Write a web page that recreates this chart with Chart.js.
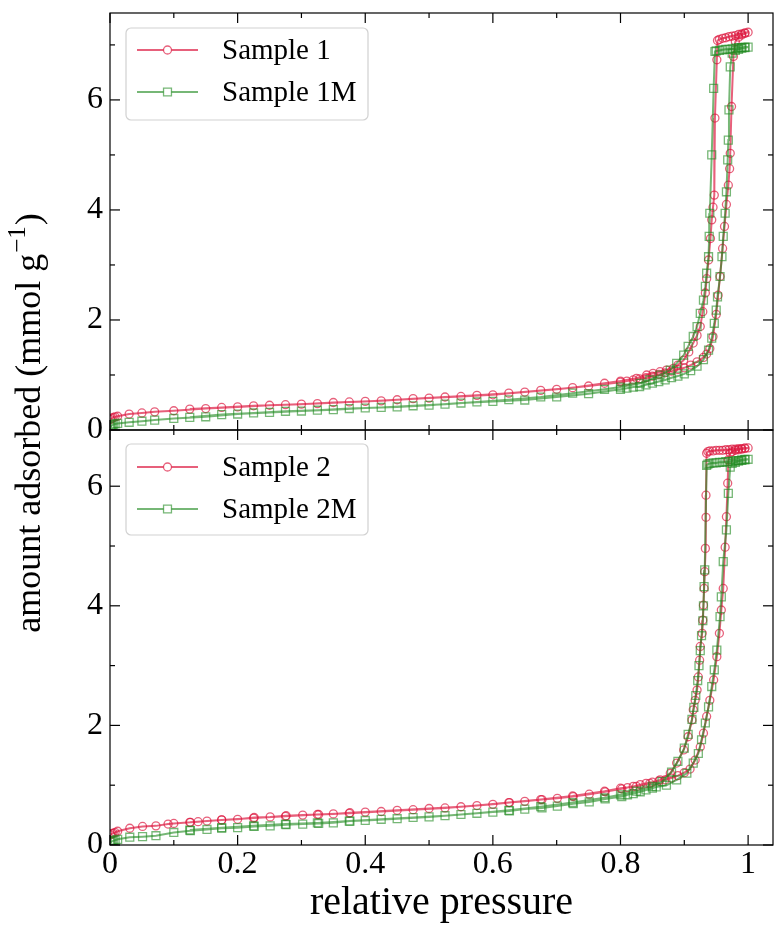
<!DOCTYPE html>
<html><head><meta charset="utf-8">
<script src="https://cdn.jsdelivr.net/npm/chart.js@4.4.1/dist/chart.umd.min.js"></script>
<style>
html,body{margin:0;padding:0;background:#fff;}
#wrap{position:relative;width:774px;height:925px;}
canvas{position:absolute;left:0;top:0;}
</style></head><body>
<div id="wrap"><canvas id="c1" width="774" height="925"></canvas><canvas id="c2" width="774" height="925"></canvas></div>
<script>
// ---------- tick labels ----------
const xTicks = [0, 0.2, 0.4, 0.6, 0.8, 1.0];
const xTickLabels = ['0', '0.2', '0.4', '0.6', '0.8', '1'];
const xMinorTicks = [0.1, 0.3, 0.5, 0.7, 0.9];
const yTicksTop = [0, 2, 4, 6];
const yTickLabelsTop = ['0', '2', '4', '6'];
const yMinorTop = [1, 3, 5, 7];
const yTicksBottom = [0, 2, 4, 6];
const yTickLabelsBottom = ['0', '2', '4', '6'];
const yMinorBottom = [1, 3, 5];
const X_MAX = 1.039, Y_MAX_TOP = 7.58, Y_MAX_BOTTOM = 6.94;

// ---------- Sample 1 (adsorption then desorption) ----------
const s1AdsP = [0.001,0.003,0.005,0.008,0.012,0.03,0.05,0.07,0.1,0.15,0.2,0.25,0.3,0.35,0.4,0.45,0.5,0.55,0.6,0.65,0.7,0.75,0.8,0.81,0.82,0.83,0.84,0.85,0.86,0.87,0.88,0.89,0.9,0.91,0.92,0.93,0.935,0.94,0.945,0.95,0.953,0.956,0.96,0.963,0.966,0.969,0.971,0.972,0.974,0.977,0.98,0.985,0.99,0.995,1.0];
const s1AdsV = [0.19,0.21,0.23,0.24,0.25,0.29,0.31,0.33,0.35,0.39,0.42,0.45,0.47,0.50,0.52,0.55,0.58,0.61,0.64,0.69,0.74,0.80,0.87,0.89,0.91,0.93,0.95,0.98,1.01,1.04,1.07,1.10,1.13,1.18,1.24,1.32,1.38,1.48,1.70,2.10,2.45,2.79,3.30,3.70,4.10,4.45,4.75,5.03,5.88,6.79,7.06,7.14,7.18,7.21,7.23];
const s1DesP = [0.995,0.99,0.985,0.98,0.975,0.97,0.965,0.96,0.955,0.952,0.951,0.948,0.947,0.945,0.943,0.941,0.938,0.935,0.933,0.929,0.925,0.92,0.914,0.907,0.899,0.89,0.883,0.872,0.862,0.851,0.841,0.825,0.8,0.775,0.725,0.675,0.625,0.575,0.525,0.475,0.425,0.375,0.325,0.275,0.225,0.175,0.125];
const s1DesV = [7.22,7.20,7.19,7.17,7.16,7.15,7.13,7.12,7.10,7.08,6.73,5.67,4.27,4.05,3.82,3.48,3.09,2.75,2.49,2.15,1.88,1.72,1.58,1.42,1.27,1.18,1.12,1.09,1.06,1.03,1.00,0.94,0.89,0.85,0.77,0.72,0.67,0.63,0.60,0.57,0.53,0.51,0.48,0.46,0.44,0.41,0.38];

// ---------- Sample 1M ----------
const s1mAdsP = [0.001,0.003,0.005,0.008,0.012,0.03,0.05,0.07,0.1,0.15,0.2,0.25,0.3,0.35,0.4,0.45,0.5,0.55,0.6,0.65,0.7,0.75,0.8,0.81,0.82,0.83,0.84,0.85,0.86,0.87,0.88,0.89,0.9,0.91,0.92,0.93,0.938,0.943,0.947,0.95,0.952,0.956,0.959,0.961,0.964,0.966,0.968,0.969,0.97,0.972,0.975,0.98,0.985,0.99,0.995,1.0];
const s1mAdsV = [0.06,0.08,0.10,0.11,0.12,0.14,0.16,0.18,0.21,0.24,0.29,0.32,0.345,0.37,0.40,0.42,0.45,0.49,0.52,0.545,0.60,0.66,0.74,0.76,0.78,0.79,0.82,0.85,0.88,0.91,0.95,0.98,1.02,1.08,1.16,1.28,1.45,1.67,1.94,2.18,2.42,2.79,3.15,3.52,3.94,4.33,4.91,5.27,5.82,6.60,6.85,6.90,6.92,6.94,6.95,6.96];
const s1mDesP = [0.995,0.99,0.985,0.98,0.975,0.97,0.965,0.96,0.955,0.95,0.948,0.946,0.943,0.94,0.939,0.938,0.935,0.933,0.93,0.925,0.92,0.914,0.906,0.899,0.888,0.878,0.862,0.846,0.831,0.8,0.775,0.725,0.675,0.625,0.575,0.525,0.475,0.425,0.375,0.325,0.275,0.225,0.175,0.125];
const s1mDesV = [6.96,6.95,6.95,6.94,6.93,6.92,6.92,6.91,6.90,6.89,6.88,6.21,5.00,3.94,3.52,3.15,2.85,2.61,2.36,2.12,1.88,1.70,1.52,1.36,1.21,1.09,1.00,0.91,0.85,0.78,0.74,0.67,0.60,0.55,0.51,0.47,0.44,0.41,0.39,0.36,0.34,0.31,0.28,0.23];

// ---------- Sample 2 ----------
const s2AdsP = [0.001,0.003,0.005,0.008,0.012,0.031,0.051,0.072,0.091,0.1,0.126,0.138,0.152,0.175,0.2,0.226,0.251,0.276,0.302,0.327,0.35,0.376,0.4,0.45,0.5,0.55,0.6,0.626,0.65,0.677,0.701,0.726,0.751,0.776,0.802,0.811,0.82,0.831,0.84,0.85,0.86,0.87,0.88,0.89,0.9,0.909,0.917,0.925,0.93,0.935,0.94,0.946,0.951,0.955,0.958,0.961,0.964,0.966,0.968,0.969,0.972,0.975,0.98,0.985,0.99,0.995,1.0];
const s2AdsV = [0.17,0.19,0.20,0.21,0.23,0.28,0.31,0.32,0.35,0.36,0.38,0.39,0.40,0.42,0.43,0.46,0.47,0.49,0.50,0.51,0.52,0.54,0.55,0.58,0.61,0.64,0.68,0.71,0.73,0.76,0.78,0.81,0.85,0.89,0.94,0.96,0.98,1.01,1.03,1.05,1.07,1.09,1.12,1.16,1.21,1.27,1.42,1.64,1.87,2.15,2.42,2.76,3.15,3.54,3.93,4.29,4.98,5.49,6.05,6.44,6.55,6.58,6.60,6.61,6.62,6.63,6.64];
const s2DesP = [0.995,0.99,0.985,0.98,0.975,0.97,0.965,0.96,0.955,0.95,0.945,0.94,0.937,0.935,0.934,0.934,0.933,0.932,0.931,0.930,0.929,0.928,0.925,0.924,0.922,0.920,0.917,0.914,0.912,0.906,0.899,0.888,0.878,0.862,0.846,0.825,0.8,0.775,0.725,0.675,0.625,0.575,0.525,0.475,0.425,0.375,0.325,0.275,0.225,0.175,0.125];
const s2DesV = [6.64,6.63,6.63,6.62,6.62,6.61,6.61,6.60,6.60,6.60,6.59,6.59,6.58,6.55,5.85,5.48,4.96,4.57,4.29,4.01,3.76,3.54,3.32,3.09,2.81,2.59,2.42,2.26,2.09,1.81,1.59,1.37,1.20,1.09,1.03,0.98,0.95,0.90,0.82,0.76,0.71,0.66,0.62,0.59,0.56,0.53,0.51,0.48,0.45,0.42,0.38];

// ---------- Sample 2M ----------
const s2mAdsP = [0.001,0.003,0.005,0.008,0.012,0.031,0.051,0.072,0.1,0.126,0.152,0.175,0.2,0.226,0.251,0.276,0.302,0.327,0.35,0.376,0.4,0.45,0.5,0.55,0.6,0.626,0.65,0.677,0.701,0.726,0.751,0.776,0.802,0.811,0.82,0.831,0.84,0.85,0.856,0.872,0.888,0.904,0.914,0.922,0.927,0.933,0.938,0.943,0.947,0.951,0.956,0.958,0.961,0.966,0.969,0.972,0.975,0.98,0.985,0.99,0.995,1.0];
const s2mAdsV = [0.05,0.06,0.07,0.08,0.095,0.13,0.14,0.155,0.21,0.24,0.26,0.28,0.29,0.31,0.32,0.34,0.35,0.36,0.37,0.40,0.41,0.44,0.47,0.51,0.55,0.57,0.60,0.62,0.65,0.69,0.72,0.77,0.81,0.84,0.86,0.89,0.92,0.95,0.97,1.00,1.09,1.20,1.37,1.53,1.76,2.04,2.31,2.65,2.93,3.26,3.82,4.15,4.74,5.27,5.88,6.32,6.38,6.40,6.42,6.43,6.44,6.45];
const s2mDesP = [0.995,0.99,0.985,0.98,0.975,0.97,0.965,0.96,0.955,0.95,0.945,0.94,0.937,0.935,0.932,0.931,0.93,0.929,0.927,0.925,0.923,0.921,0.918,0.915,0.912,0.906,0.9,0.89,0.88,0.865,0.85,0.825,0.8,0.775,0.725,0.675,0.625,0.575,0.525,0.475,0.425,0.375,0.325,0.275,0.225,0.175,0.125];
const s2mDesV = [6.45,6.44,6.43,6.43,6.42,6.41,6.41,6.40,6.40,6.39,6.39,6.38,6.37,6.35,4.60,4.32,4.00,3.75,3.50,3.25,3.00,2.75,2.50,2.30,2.10,1.85,1.62,1.40,1.22,1.06,0.98,0.90,0.84,0.79,0.71,0.64,0.58,0.53,0.49,0.46,0.43,0.40,0.37,0.35,0.32,0.29,0.25];

const labelsTop = ['Sample 1', 'Sample 1M'];
const labelsBottom = ['Sample 2', 'Sample 2M'];

// ---------- styling ----------
const FONT = "'Liberation Serif', 'Times New Roman', serif";
const RED = 'rgba(220,20,60,0.68)';
const GREEN = 'rgba(34,139,34,0.62)';

function pts(ap, av, dp, dv) {
  const out = [];
  ap.forEach((p, i) => out.push({x: p, y: av[i]}));
  dp.forEach((p, i) => out.push({x: p, y: dv[i]}));
  return out;
}
function ds(label, data, color, style, radius, order) {
  return {label, data, showLine: true, borderColor: color, borderWidth: 2, tension: 0, fill: false,
    pointStyle: style, pointRadius: radius, pointBorderWidth: 1.3, pointBorderColor: color,
    pointBackgroundColor: 'rgba(0,0,0,0)', backgroundColor: 'rgba(0,0,0,0)', order};
}
function zeroPad(s) { s.paddingTop = 0; s.paddingBottom = 0; s.paddingLeft = 0; s.paddingRight = 0; }

const frameTicks = {
  id: 'frameTicks',
  afterDatasetsDraw(chart, args, o) {
    const {ctx, chartArea: a} = chart;
    const x = chart.scales.x, y = chart.scales.y;
    ctx.save();
    ctx.strokeStyle = '#000';
    ctx.lineWidth = 1.2;
    ctx.strokeRect(a.left, a.top, a.right - a.left, a.bottom - a.top);
    const seg = (x0, y0, x1, y1) => { ctx.beginPath(); ctx.moveTo(x0, y0); ctx.lineTo(x1, y1); ctx.stroke(); };
    const xs = [[o.xMajor, o.major], [o.xMinor, o.minor]];
    xs.forEach(([vals, len]) => vals.forEach(v => {
      const px = x.getPixelForValue(v);
      seg(px, a.bottom, px, a.bottom - len);
      seg(px, a.top, px, a.top + len);
    }));
    const ys = [[o.yMajor, o.major], [o.yMinor, o.minor]];
    ys.forEach(([vals, len]) => vals.forEach(v => {
      const py = y.getPixelForValue(v);
      seg(a.left, py, a.left + len, py);
      seg(a.right, py, a.right - len, py);
    }));
    ctx.restore();
  }
};

const boxLegend = {
  id: 'boxLegend',
  afterDraw(chart, args, o) {
    const ctx = chart.ctx;
    ctx.save();
    ctx.beginPath();
    if (ctx.roundRect) ctx.roundRect(o.x, o.y, o.w, o.h, 5); else ctx.rect(o.x, o.y, o.w, o.h);
    ctx.fillStyle = 'rgba(255,255,255,0.8)';
    ctx.fill();
    ctx.strokeStyle = 'rgba(204,204,204,0.9)';
    ctx.lineWidth = 1.2;
    ctx.stroke();
    chart.data.datasets.forEach((d, i) => {
      const yy = o.rows[i];
      ctx.strokeStyle = d.borderColor;
      ctx.lineWidth = d.borderWidth;
      ctx.beginPath(); ctx.moveTo(o.lx0, yy); ctx.lineTo(o.lx1, yy); ctx.stroke();
      ctx.lineWidth = d.pointBorderWidth;
      ctx.fillStyle = '#fff';
      ctx.beginPath();
      if (d.pointStyle === 'circle') {
        ctx.arc(o.mx, yy, d.pointRadius, 0, Math.PI * 2);
      } else {
        const h = d.pointRadius * Math.SQRT1_2;
        ctx.rect(o.mx - h, yy - h, 2 * h, 2 * h);
      }
      ctx.fill(); ctx.stroke();
      ctx.fillStyle = '#000';
      ctx.font = o.fontSize + 'px ' + FONT;
      ctx.textAlign = 'left';
      ctx.textBaseline = 'middle';
      ctx.fillText(d.label, o.tx, yy + 1);
    });
    ctx.restore();
  }
};

const yTitle = {
  id: 'yTitle',
  afterDraw(chart, args, o) {
    if (!o.show) return;
    const ctx = chart.ctx;
    ctx.save();
    ctx.translate(o.x, o.y);
    ctx.rotate(-Math.PI / 2);
    ctx.fillStyle = '#000';
    ctx.textBaseline = 'alphabetic';
    ctx.textAlign = 'left';
    const main = 'amount adsorbed (mmol g', sup = '\u22121', close = ')';
    const f1 = o.size + 'px ' + FONT, f2 = Math.round(o.size * 0.7) + 'px ' + FONT;
    ctx.font = f1; const w1 = ctx.measureText(main).width, w3 = ctx.measureText(close).width;
    ctx.font = f2; const w2 = ctx.measureText(sup).width;
    let sx = -(w1 + w2 + w3 + 2) / 2;
    ctx.font = f1; ctx.fillText(main, sx, 0); sx += w1 + 1;
    ctx.font = f2; ctx.fillText(sup, sx, -o.size * 0.42); sx += w2 + 1;
    ctx.font = f1; ctx.fillText(close, sx, 0);
    ctx.restore();
  }
};

function makeChart(id, datasets, yMax, yTicks, yTickLabels, yMinor, padTop, padBottom, showX, legendOpts) {
  return new Chart(document.getElementById(id), {
    type: 'scatter',
    data: {datasets},
    options: {
      responsive: false, animation: false, devicePixelRatio: 1,
      layout: {autoPadding: false, padding: {top: padTop, bottom: padBottom, left: 0, right: 1}},
      plugins: {
        legend: {display: false}, tooltip: {enabled: false},
        frameTicks: {xMajor: xTicks, xMinor: xMinorTicks, yMajor: yTicks, yMinor: yMinor, major: 10, minor: 5},
        boxLegend: legendOpts,
        yTitle: {show: showX, x: 40, y: 423, size: 36}
      },
      scales: {
        x: {
          type: 'linear', min: 0, max: X_MAX,
          afterBuildTicks: s => { s.ticks = xTicks.map(v => ({value: v})); },
          ticks: {display: showX, padding: 0, color: '#000', font: {family: FONT, size: 32},
                  maxRotation: 0, autoSkip: false, callback: (v, i) => xTickLabels[i]},
          grid: {display: false, drawTicks: false}, border: {display: false},
          title: {display: showX, text: 'relative pressure', color: '#000',
                  font: {family: FONT, size: 40, lineHeight: 1.1}, padding: 0},
          afterFit: s => { s.height = showX ? 80 : 0; zeroPad(s); }
        },
        y: {
          type: 'linear', min: 0, max: yMax,
          afterBuildTicks: s => { s.ticks = yTicks.map(v => ({value: v})); },
          ticks: {padding: 7, color: '#000', font: {family: FONT, size: 32}, autoSkip: false,
                  callback: (v, i) => yTickLabels[i]},
          grid: {display: false, drawTicks: false}, border: {display: false},
          afterFit: s => { s.width = 110; zeroPad(s); }
        }
      }
    },
    plugins: [frameTicks, boxLegend, yTitle]
  });
}

makeChart('c1', [
  ds(labelsTop[0], pts(s1AdsP, s1AdsV, s1DesP, s1DesV), RED, 'circle', 4, 1),
  ds(labelsTop[1], pts(s1mAdsP, s1mAdsV, s1mDesP, s1mDesV), GREEN, 'rect', 5.6, 0)
], Y_MAX_TOP, yTicksTop, yTickLabelsTop, yMinorTop, 13, 495, false,
  {x: 126, y: 28, w: 242, h: 92, rows: [50, 92], lx0: 137, lx1: 198, mx: 167.5, tx: 222, fontSize: 29});

makeChart('c2', [
  ds(labelsBottom[0], pts(s2AdsP, s2AdsV, s2DesP, s2DesV), RED, 'circle', 4, 1),
  ds(labelsBottom[1], pts(s2mAdsP, s2mAdsV, s2mDesP, s2mDesV), GREEN, 'rect', 5.6, 0)
], Y_MAX_BOTTOM, yTicksBottom, yTickLabelsBottom, yMinorBottom, 430, 0, true,
  {x: 126, y: 444, w: 242, h: 91, rows: [467, 509], lx0: 137, lx1: 198, mx: 167.5, tx: 222, fontSize: 29});
</script>
</body></html>
